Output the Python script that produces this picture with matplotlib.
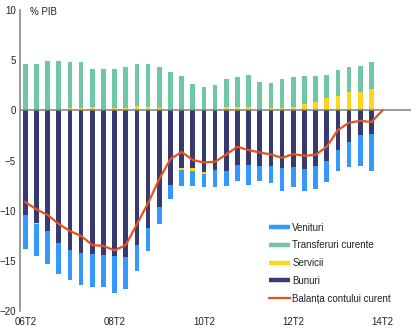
import matplotlib
matplotlib.use("Agg")
import matplotlib.pyplot as plt
from matplotlib.lines import Line2D
import numpy as np

# quarters 06T2 .. 14T1 for bars, line runs to 14T2
quarters = ["06T2", "06T3", "06T4", "07T1", "07T2", "07T3", "07T4", "08T1",
            "08T2", "08T3", "08T4", "09T1", "09T2", "09T3", "09T4", "10T1",
            "10T2", "10T3", "10T4", "11T1", "11T2", "11T3", "11T4", "12T1",
            "12T2", "12T3", "12T4", "13T1", "13T2", "13T3", "13T4", "14T1",
            "14T2"]

bunuri = [-10.43, -11.23, -12.03, -13.22, -13.92, -14.22, -14.32, -14.42,
          -14.52, -14.62, -13.42, -11.73, -9.63, -7.44, -5.75, -5.75,
          -6.15, -5.95, -6.05, -5.45, -5.45, -5.55, -5.55, -5.75,
          -5.65, -5.85, -5.55, -5.05, -3.95, -3.16, -2.46, -2.36]
servicii = [0.0, -0.1, 0.0, 0.13, 0.27, 0.27, 0.33, 0.13,
            0.27, 0.27, 0.47, 0.33, 0.27, 0.0, -0.2, -0.3,
            -0.2, 0.0, 0.33, 0.33, 0.33, 0.13, 0.23, 0.23,
            0.33, 0.63, 0.83, 1.23, 1.43, 1.83, 1.83, 2.13]
venituri = [-3.39, -3.19, -3.29, -3.09, -2.99, -3.19, -3.29, -3.19,
            -3.69, -3.19, -2.59, -2.29, -1.70, -1.40, -1.59, -1.49,
            -1.29, -1.69, -1.49, -1.59, -1.99, -1.49, -1.69, -2.29,
            -1.99, -2.19, -2.29, -2.09, -2.10, -2.49, -3.09, -3.69]
transferuri = [4.62, 4.62, 4.92, 4.79, 4.55, 4.55, 3.79, 3.99,
               3.85, 4.05, 4.15, 4.29, 4.05, 3.82, 3.42, 2.62,
               2.33, 2.52, 2.79, 2.99, 3.19, 2.69, 2.49, 2.89,
               2.99, 2.79, 2.59, 2.29, 2.59, 2.49, 2.59, 2.69]
balanta = [-9.14, -9.87, -10.43, -11.33, -12.03, -12.52, -13.42, -13.52,
           -13.95, -13.42, -11.33, -9.24, -6.84, -4.85, -4.15, -4.95,
           -5.2, -5.12, -4.4, -3.63, -3.96, -4.2, -4.4, -4.73,
           -4.36, -4.53, -4.43, -3.63, -1.96, -1.24, -1.04, -1.17, 0.0]

tick_labels = ["06T2", "08T2", "10T2", "12T2", "14T2"]

colors = {
    "Bunuri": "#363a70",
    "Servicii": "#ffd520",
    "Venituri": "#3399ff",
    "Transferuri curente": "#6ec8a8",
    "line": "#e8521c",
}

plt.rcParams["font.family"] = ["Liberation Sans", "DejaVu Sans"]
plt.rcParams["font.size"] = 7

fig = plt.figure(figsize=(4.16, 3.33), dpi=100)
ax = fig.add_axes([0.048, 0.066, 0.94, 0.904])

x = np.arange(len(bunuri))
pos_bottom = np.zeros(len(x))
neg_bottom = np.zeros(len(x))
series = [("Bunuri", bunuri), ("Servicii", servicii),
          ("Venituri", venituri), ("Transferuri curente", transferuri)]
for name, vals in series:
    vals = np.array(vals)
    bottom = np.where(vals >= 0, pos_bottom, neg_bottom)
    ax.bar(x, vals, width=0.42, bottom=bottom, color=colors[name], linewidth=0)
    pos_bottom = pos_bottom + np.clip(vals, 0, None)
    neg_bottom = neg_bottom + np.clip(vals, None, 0)

ax.axhline(0, color="#808080", linewidth=1.1, zorder=3)
ax.plot(np.arange(len(balanta)), balanta, color=colors["line"], linewidth=1.6, zorder=4)

ax.set_xlim(-0.48, 34.55)
ax.set_ylim(-20, 10)
ax.set_yticks(range(-20, 11, 5))
ax.set_xticks([quarters.index(t) for t in tick_labels])
ax.set_xticklabels(tick_labels)
ax.tick_params(length=0, colors="#222222")
ax.tick_params(axis="y", pad=3)
ax.tick_params(axis="x", pad=4)
for s in ["top", "right", "bottom"]:
    ax.spines[s].set_visible(False)
ax.spines["left"].set_color("#808080")
ax.spines["left"].set_linewidth(1.1)

fig.text(0.072, 0.964, "% PIB", color="#222222", fontsize=7, va="center")

handles = [
    Line2D([], [], color=colors["Venituri"], lw=3.2, solid_capstyle="butt"),
    Line2D([], [], color=colors["Transferuri curente"], lw=3.2, solid_capstyle="butt"),
    Line2D([], [], color=colors["Servicii"], lw=3.2, solid_capstyle="butt"),
    Line2D([], [], color=colors["Bunuri"], lw=3.2, solid_capstyle="butt"),
    Line2D([], [], color=colors["line"], lw=1.6),
]
labels = ["Venituri", "Transferuri curente", "Servicii", "Bunuri",
          "Balanța contului curent"]
ax.legend(handles, labels, loc="upper left", bbox_to_anchor=(0.624, 0.31),
          frameon=False, borderpad=0, handlelength=2.2, handletextpad=0.2,
          labelspacing=0.8, fontsize=7, labelcolor="#222222")

fig.savefig("out.png", dpi=100)
